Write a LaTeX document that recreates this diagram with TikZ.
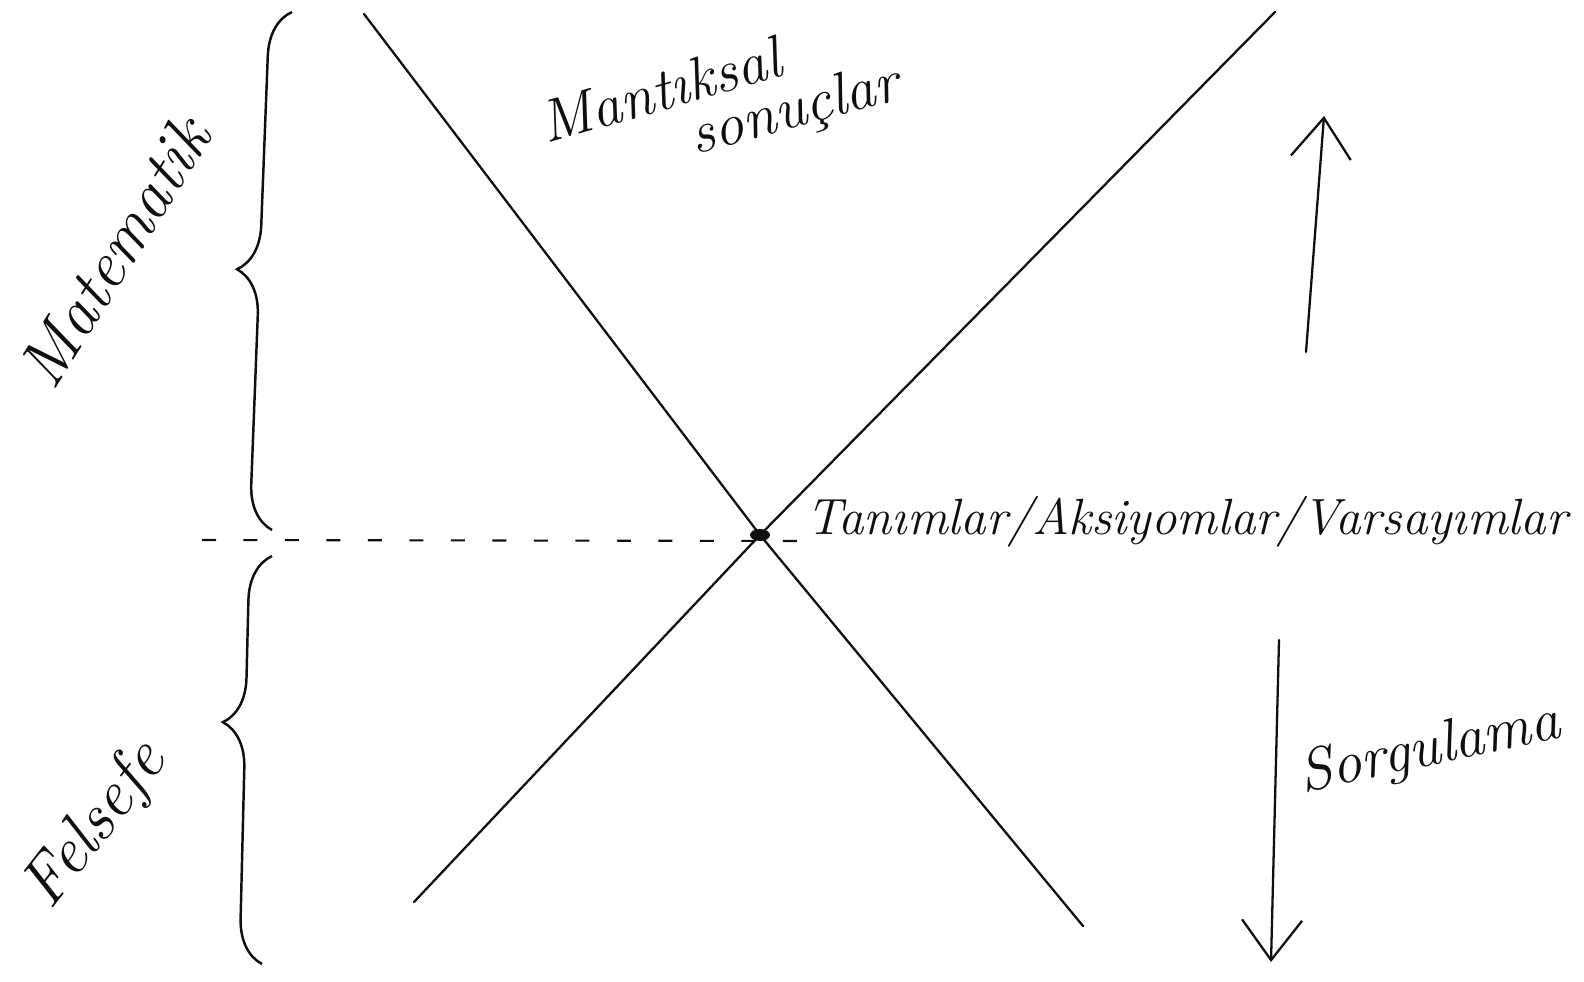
\documentclass[tikz,border=0pt]{standalone}
\usepackage{tikz}
\usetikzlibrary{arrows.meta, positioning, decorations.pathreplacing}
\usepackage{xcolor}
\definecolor{cInk}{RGB}{15,15,15}
\tikzset{
  inkline/.style={draw=cInk, line width=1.3pt, line cap=round},
  dashline/.style={draw=cInk, line width=1.2pt, dash pattern=on 0.28cm off 0.55cm},
  bracestroke/.style={draw=cInk, line width=1.4pt,
                      decorate, decoration={brace, amplitude=0.9cm}},
  inkarrow/.style={inkline, -{Straight Barb[length=0.8cm, width=1.2cm, line width=1.3pt]}},
  handtext/.style={text=cInk, inner sep=0pt, font=\itshape},
  bigtext/.style={handtext, font=\itshape\fontsize{38}{42}\selectfont},
  midtext/.style={handtext, font=\itshape\fontsize{34}{38}\selectfont},
  longtext/.style={handtext, font=\itshape\fontsize{29}{33}\selectfont}
}

\begin{document}
\begin{tikzpicture}[x=0.02cm, y=-0.02cm]

  \useasboundingbox (0,0) rectangle (1584,982);

  % ── Crossing point ──
  \coordinate (cross) at (760,535);

  % ── Line ends ──
  \coordinate (ul) at (364,14);
  \coordinate (lr) at (1083,926);
  \coordinate (ur) at (1275,12);
  \coordinate (ll) at (414,902);

  % ── Dashed level ──
  \coordinate (dashstart) at (202,540);
  \coordinate (dashend) at (800,541);

  % ── Braces ──
  \coordinate (mtop) at (292,12);
  \coordinate (mbot) at (272,530);
  \coordinate (ftop) at (272,556);
  \coordinate (fbot) at (262,964);

  % ── Arrows ──
  \coordinate (uptail) at (1306,352);
  \coordinate (uphead) at (1324,116);
  \coordinate (dntail) at (1279,640);
  \coordinate (dnhead) at (1271,962);

  % ── Labels ──
  \node[bigtext, rotate=58] (matematik) at (114,252) {Matematik};
  \node[bigtext, rotate=52] (felsefe) at (96,826) {Felsefe};
  \node[midtext, rotate=16] (mantiksal) at (660,90) {Mantıksal};
  \node[midtext, rotate=15] (sonuclar) at (795,112) {sonuçlar};
  \node[longtext, anchor=west] (tanimlar) at (806,522)
      {Tanımlar/Aksiyomlar/Varsayımlar};
  \node[midtext, rotate=12] (sorgulama) at (1430,750) {Sorgulama};

  % ── Strokes ──
  \draw[inkline] (ul) -- (cross) -- (lr);
  \draw[inkline] (ur) -- (cross) -- (ll);
  \draw[dashline] (dashstart) -- (dashend);
  \fill[cInk] (cross) ellipse (0.2cm and 0.12cm);
  \draw[inkarrow] (uptail) -- (uphead);
  \draw[inkarrow] (dntail) -- (dnhead);
  \draw[bracestroke, decoration={aspect=0.5}] (mbot) -- (mtop);
  \draw[bracestroke, decoration={aspect=0.59}] (fbot) -- (ftop);

\end{tikzpicture}
\end{document}
